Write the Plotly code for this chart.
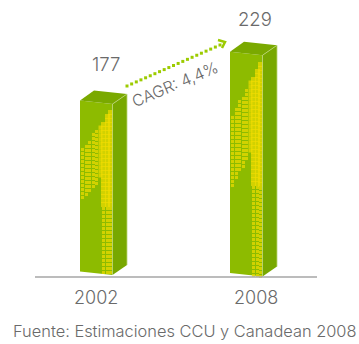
import math
import plotly.graph_objects as go

# Chart values
years = ["2002", "2008"]
volumes = [177, 229]
cagr_label = "CAGR: 4,4%"
source_note = "Fuente: Estimaciones CCU y Canadean 2008"

# Box drawing constants, in axis units
LEFT = [80, 230]
BASES = [271.5, 273]
FRONT_W = 32.5
DEPTH_X = 14.5
DEPTH_Y = 10
SKEW = 3.5
PX_PER_UNIT = 0.966
VALUE_X = [106, 255]
VALUE_GAP = [37, 33]
YEAR_X = [96, 256]
# Halftone wedge: where its lower edge peaks below the box top, and how steeply it falls
WEDGE_PEAK = [77, 100]
WEDGE_FALL = [1.25, 1.9]
WEDGE_RISE = [1.45, 1.9]

FRONT = "#8dbb00"
SIDE = "#78a800"
TOP = "#7aa900"
YELLOW = "#efdc00"
EDGE = "#bcd67a"
ARROW = "#9ccb00"
TEXT = "#6a6a6a"
FONT = "Inter"
WEIGHT = 300

fig = go.Figure()


def poly(xs, ys, color):
    fig.add_trace(go.Scatter(x=xs + xs[:1], y=ys + ys[:1], mode="lines", fill="toself",
                             fillcolor=color, line=dict(width=0), hoverinfo="skip",
                             showlegend=False))


for i, (left, value) in enumerate(zip(LEFT, volumes)):
    h = value * PX_PER_UNIT
    base = BASES[i]
    right = left + FRONT_W
    top = base - h
    poly([left, right, right, left], [top, top + SKEW, base + SKEW, base], FRONT)
    poly([right, right + DEPTH_X, right + DEPTH_X, right],
         [top + SKEW, top + SKEW - DEPTH_Y, base + SKEW - DEPTH_Y, base + SKEW], SIDE)
    poly([left, left + 14, right + DEPTH_X, right],
         [top, top - DEPTH_Y, top + SKEW - DEPTH_Y, top + SKEW], TOP)

    # Halftone texture on the front face: square dots snapped to whole pixels
    xs, ys, sizes = [], [], []
    yy = top + 5
    while yy < base + 1:
        x = right - 2
        col = 0
        while x > left + 1:
            upper_edge = top + 4 + (right - x) * WEDGE_RISE[i]
            lower_edge = top + WEDGE_PEAK[i] + (left + 20 - x) * WEDGE_FALL[i]
            in_strip = x >= right - 11 and yy > upper_edge
            in_wedge = upper_edge < yy < lower_edge
            if in_strip or in_wedge:
                xs.append(math.floor(x) + 0.5)
                ys.append(math.floor(yy + (x - left) * SKEW / FRONT_W) + 0.5)
                depth = (yy - top) / (base - top)
                if col < 3 and depth < 0.6:
                    sizes.append(5)
                elif col == 3 and depth < 0.45:
                    sizes.append(4)
                else:
                    sizes.append(3)
            x -= 3.5
            col += 1
        yy += 4
    fig.add_trace(go.Scatter(x=xs, y=ys, mode="markers",
                             marker=dict(symbol="square", size=sizes, color=YELLOW, line=dict(width=0)),
                             hoverinfo="skip", showlegend=False))
    # Pale highlight along the box edges
    fig.add_trace(go.Scatter(x=[right, right, right + DEPTH_X, right + DEPTH_X],
                             y=[base + SKEW, top + SKEW, top + SKEW - DEPTH_Y, base + SKEW - DEPTH_Y],
                             mode="lines", line=dict(color=EDGE, width=0.8), hoverinfo="skip", showlegend=False))
    fig.add_annotation(x=VALUE_X[i], y=top - VALUE_GAP[i], text=str(value), showarrow=False,
                       font=dict(family=FONT, size=18.5, color=TEXT, weight=WEIGHT))

# Baseline and year labels
fig.add_shape(type="line", x0=35, x1=317, y0=277, y1=277, line=dict(color="#a6a6a6", width=1.5))
for i, year in enumerate(years):
    fig.add_annotation(x=YEAR_X[i], y=297, text=year, showarrow=False,
                       font=dict(family=FONT, size=18, color=TEXT, weight=WEIGHT))

# Growth arrow
n = 20
fig.add_trace(go.Scatter(x=[127 + (220 - 127) * k / n for k in range(n + 1)],
                         y=[86 + (45 - 86) * k / n for k in range(n + 1)],
                         mode="markers", marker=dict(symbol="square", size=3, color=ARROW),
                         hoverinfo="skip", showlegend=False))
fig.add_trace(go.Scatter(x=[218, 225, 222], y=[40, 42, 48], mode="lines",
                         line=dict(color=ARROW, width=2.5), hoverinfo="skip", showlegend=False))
fig.add_annotation(x=175, y=84, text=cagr_label, textangle=-23, showarrow=False,
                   font=dict(family=FONT, size=16, color=TEXT, weight=WEIGHT))
fig.add_annotation(x=184.5, y=331, text=source_note, showarrow=False,
                   font=dict(family=FONT, size=16.4, color=TEXT, weight=WEIGHT))

fig.update_layout(width=359, height=344, margin=dict(l=0, r=0, t=0, b=0),
                  paper_bgcolor="white", plot_bgcolor="white", showlegend=False)
fig.update_xaxes(range=[0, 359], visible=False, fixedrange=True)
fig.update_yaxes(range=[344, 0], visible=False, fixedrange=True)
fig.write_html("out.html", config=dict(displayModeBar=False))
